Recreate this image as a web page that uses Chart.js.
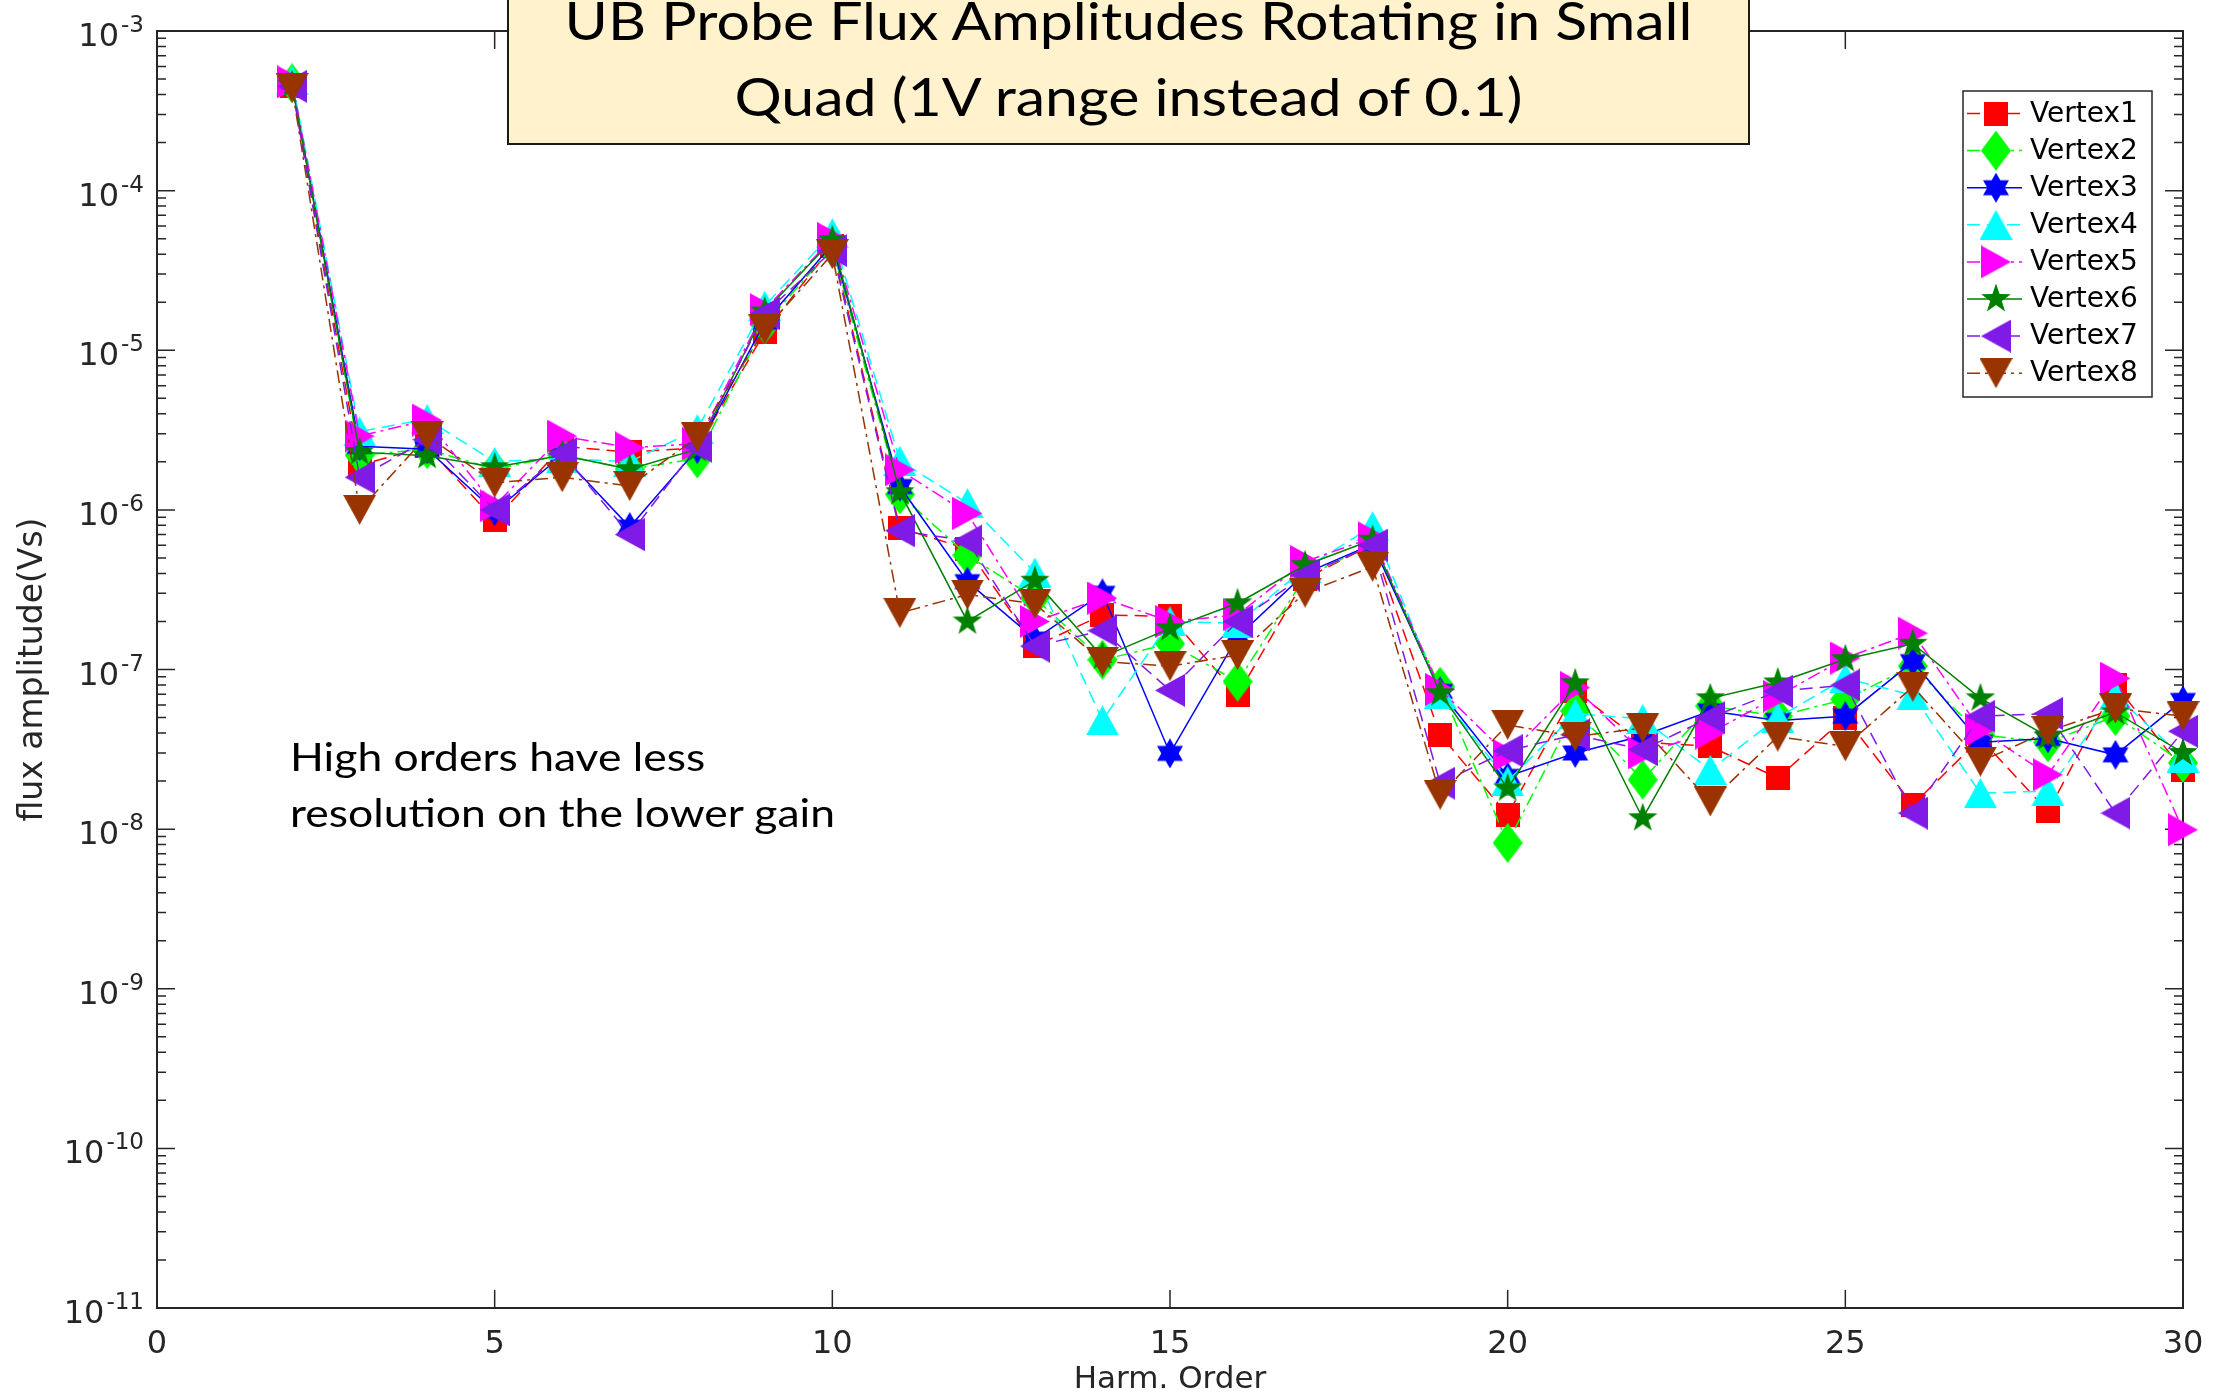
<!DOCTYPE html>
<html>
<head>
<meta charset="utf-8">
<title>UB Probe Flux Amplitudes</title>
<script src="https://cdn.jsdelivr.net/npm/chart.js@4.4.1/dist/chart.umd.min.js"></script>
<style>
	html, body { margin: 0; padding: 0; background: #fff; overflow: hidden; }
	#wrap { position: relative; width: 2234px; height: 1399px; }
	#titleBox {
		position: absolute; left: 507px; top: -29px; width: 1243px; height: 174px;
		box-sizing: border-box; border: 2px solid #1a1a1a; background: #FFF2CC;
		display: flex; flex-direction: column; justify-content: center;
		font-family: Lato, sans-serif; font-size: 52px; line-height: 76px;
		text-align: center; color: #000;
	}
	#titleBox div { transform: scaleX(1.135); }
	#note {
		position: absolute; left: 290px; top: 728px;
		font-family: Lato, sans-serif; font-size: 38px; line-height: 56px; color: #000;
		transform: scaleX(1.17); transform-origin: left top; white-space: nowrap;
	}
</style>
</head>
<body>
<div id="wrap">
	<canvas id="fluxChart" width="2234" height="1399"></canvas>
	<div id="titleBox"><div>UB Probe Flux Amplitudes Rotating in Small</div><div>Quad (1V range instead of 0.1)</div></div>
	<div id="note">High orders have less<br>resolution on the lower gain</div>
</div>
<script>
const harmonicOrder = [2, 3, 4, 5, 6, 7, 8, 9, 10, 11, 12, 13, 14, 15, 16, 17, 18, 19, 20, 21, 22, 23, 24, 25, 26, 27, 28, 29, 30];

const vertex1 = [4.5e-4, 1.9e-6, 2.5e-6, 8.6e-7, 2.5e-6, 2.3e-6, 2.45e-6, 1.3e-5, 4.5e-5, 7.7e-7, 5.7e-7, 1.4e-7, 2.2e-7, 2.15e-7, 6.9e-8, 3.7e-7, 6.1e-7, 3.9e-8, 1.23e-8, 7.3e-8, 3.5e-8, 3.3e-8, 2.09e-8, 5.0e-8, 1.42e-8, 3.7e-8, 1.29e-8, 8.0e-8, 2.35e-8];
const vertex2 = [4.7e-4, 2.2e-6, 2.4e-6, 1.8e-6, 2.2e-6, 1.8e-6, 2.1e-6, 1.45e-5, 4.4e-5, 1.25e-6, 5.2e-7, 2.8e-7, 1.15e-7, 1.45e-7, 8.4e-8, 3.8e-7, 6.1e-7, 7.8e-8, 8.2e-9, 5.5e-8, 2.04e-8, 5.9e-8, 5.1e-8, 6.5e-8, 1.05e-7, 3.9e-8, 3.5e-8, 5.1e-8, 2.6e-8];
const vertex3 = [4.6e-4, 2.5e-6, 2.4e-6, 9.8e-7, 2.2e-6, 7.8e-7, 2.4e-6, 1.5e-5, 4.6e-5, 1.4e-6, 3.55e-7, 1.55e-7, 3.0e-7, 2.98e-8, 1.6e-7, 4.0e-7, 6.1e-7, 7.3e-8, 2.14e-8, 3.0e-8, 3.85e-8, 5.5e-8, 4.8e-8, 5.1e-8, 1.12e-7, 3.5e-8, 3.7e-8, 2.92e-8, 6.4e-8];
const vertex4 = [4.9e-4, 3.1e-6, 3.7e-6, 2.0e-6, 2.1e-6, 2.0e-6, 3.2e-6, 1.9e-5, 5.4e-5, 2.03e-6, 1.1e-6, 4.05e-7, 4.8e-8, 2.0e-7, 1.95e-7, 4.3e-7, 7.9e-7, 7.0e-8, 2.0e-8, 5.3e-8, 4.9e-8, 2.35e-8, 5.0e-8, 8.8e-8, 6.9e-8, 1.68e-8, 1.73e-8, 6.9e-8, 2.8e-8];
const vertex5 = [4.8e-4, 2.9e-6, 3.65e-6, 1.06e-6, 2.9e-6, 2.45e-6, 2.6e-6, 1.8e-5, 5.0e-5, 1.78e-6, 9.5e-7, 2.0e-7, 2.8e-7, 2.0e-7, 2.2e-7, 4.75e-7, 6.7e-7, 7.5e-8, 2.9e-8, 7.7e-8, 3.0e-8, 4.0e-8, 6.8e-8, 1.18e-7, 1.69e-7, 4.2e-8, 2.19e-8, 8.8e-8, 9.9e-9];
const vertex6 = [4.6e-4, 2.3e-6, 2.18e-6, 1.85e-6, 2.2e-6, 1.8e-6, 2.4e-6, 1.75e-5, 4.9e-5, 1.29e-6, 2.0e-7, 3.6e-7, 1.2e-7, 1.81e-7, 2.6e-7, 4.5e-7, 6.5e-7, 7.1e-8, 1.8e-8, 8.2e-8, 1.17e-8, 6.6e-8, 8.3e-8, 1.16e-7, 1.45e-7, 6.6e-8, 3.8e-8, 5.4e-8, 3.0e-8];
const vertex7 = [4.5e-4, 1.6e-6, 2.75e-6, 1.0e-6, 2.25e-6, 7.0e-7, 2.5e-6, 1.7e-5, 4.2e-5, 7.4e-7, 6.4e-7, 1.4e-7, 1.75e-7, 7.4e-8, 2.0e-7, 3.9e-7, 6.0e-7, 1.94e-8, 3.1e-8, 3.9e-8, 3.15e-8, 5.0e-8, 7.3e-8, 8.0e-8, 1.26e-8, 5.1e-8, 5.3e-8, 1.26e-8, 4.1e-8];
const vertex8 = [4.4e-4, 1.0e-6, 2.9e-6, 1.48e-6, 1.6e-6, 1.41e-6, 2.85e-6, 1.35e-5, 4.0e-5, 2.26e-7, 2.95e-7, 2.58e-7, 1.12e-7, 1.05e-7, 1.23e-7, 3.03e-7, 4.4e-7, 1.64e-8, 4.5e-8, 3.8e-8, 4.3e-8, 1.49e-8, 3.8e-8, 3.3e-8, 7.8e-8, 2.65e-8, 4.1e-8, 5.7e-8, 5.1e-8];

const seriesNames = ['Vertex1', 'Vertex2', 'Vertex3', 'Vertex4', 'Vertex5', 'Vertex6', 'Vertex7', 'Vertex8'];
const seriesValues = [vertex1, vertex2, vertex3, vertex4, vertex5, vertex6, vertex7, vertex8];

const xTickValues = [0, 5, 10, 15, 20, 25, 30];
const yTickValues = [1e-11, 1e-10, 1e-9, 1e-8, 1e-7, 1e-6, 1e-5, 1e-4, 1e-3];
const yTickExponents = ['-11', '-10', '-9', '-8', '-7', '-6', '-5', '-4', '-3'];

// estilo de cada serie (cor, marcador, tracejado)
const seriesColors = ['#FF0000', '#00FF00', '#0000FF', '#00FFFF', '#FF00FF', '#008000', '#801AE6', '#993300'];
const seriesMarkers = ['square', 'diamond', 'hexagram', 'triUp', 'triRight', 'pentagram', 'triLeft', 'triDown'];
const DASH = [13, 7];
const DASHDOT = [13, 5, 3, 5];
const seriesDash = [DASH, DASHDOT, [], DASH, DASHDOT, [], DASH, DASHDOT];

function makeMarker(shape, color) {
	const c = document.createElement('canvas');
	const g = c.getContext('2d');
	const poly = (pts) => {
		g.beginPath();
		pts.forEach((p, i) => (i ? g.lineTo(p[0], p[1]) : g.moveTo(p[0], p[1])));
		g.closePath();
		g.fill();
	};
	const star = (cx, cy, n, R, r, rot) => {
		const pts = [];
		for (let k = 0; k < n * 2; k++) {
			const rad = k % 2 ? r : R;
			const a = rot + (k * Math.PI) / n;
			pts.push([cx + rad * Math.cos(a), cy + rad * Math.sin(a)]);
		}
		poly(pts);
	};
	const sizes = {
		square: [24, 24], diamond: [30, 40], hexagram: [28, 30], triUp: [33, 30],
		triRight: [30, 33], pentagram: [30, 32], triLeft: [30, 33], triDown: [33, 30],
	};
	const [w, h] = sizes[shape];
	c.width = w;
	c.height = h;
	g.fillStyle = color;
	if (shape === 'square') g.fillRect(0, 0, w, h);
	if (shape === 'diamond') poly([[w / 2, 0], [w, h / 2], [w / 2, h], [0, h / 2]]);
	if (shape === 'hexagram') star(w / 2, h / 2, 6, 15, 8.7, -Math.PI / 2);
	if (shape === 'triUp') poly([[w / 2, 0], [w, h], [0, h]]);
	if (shape === 'triDown') poly([[0, 0], [w, 0], [w / 2, h]]);
	if (shape === 'triRight') poly([[0, 0], [w, h / 2], [0, h]]);
	if (shape === 'triLeft') poly([[w, 0], [0, h / 2], [w, h]]);
	if (shape === 'pentagram') star(w / 2, h / 2, 5, 15.5, 6.1, -Math.PI / 2);
	return c;
}

const markerImages = seriesMarkers.map((m, i) => makeMarker(m, seriesColors[i]));

// moldura, marcas de escala para dentro e rótulos 10^n, estilo MATLAB
const axesFrame = {
	id: 'axesFrame',
	beforeDatasetsDraw(chart) {
		const { ctx, chartArea: a, scales: { x, y } } = chart;
		ctx.save();
		ctx.strokeStyle = '#262626';
		ctx.lineWidth = 2;
		ctx.strokeRect(a.left, a.top, a.right - a.left, a.bottom - a.top);
		ctx.lineWidth = 1.5;
		ctx.beginPath();
		xTickValues.forEach((v) => {
			const px = x.getPixelForValue(v);
			ctx.moveTo(px, a.bottom); ctx.lineTo(px, a.bottom - 18);
			ctx.moveTo(px, a.top); ctx.lineTo(px, a.top + 18);
		});
		yTickValues.forEach((dec, i) => {
			const steps = i < yTickValues.length - 1 ? 9 : 1;
			for (let m = 1; m <= steps; m++) {
				const py = y.getPixelForValue(dec * m);
				const len = m === 1 ? 18 : 9;
				ctx.moveTo(a.left, py); ctx.lineTo(a.left + len, py);
				ctx.moveTo(a.right, py); ctx.lineTo(a.right - len, py);
			}
		});
		ctx.stroke();

		ctx.fillStyle = '#262626';
		ctx.textBaseline = 'alphabetic';
		ctx.textAlign = 'left';
		yTickValues.forEach((v, i) => {
			const py = y.getPixelForValue(v);
			ctx.font = '32px "DejaVu Sans"';
			const wBase = ctx.measureText('10').width;
			ctx.font = '23px "DejaVu Sans"';
			const wExp = ctx.measureText(yTickExponents[i]).width;
			const x0 = a.left - 13 - wExp - 2 - wBase;
			ctx.font = '32px "DejaVu Sans"';
			ctx.fillText('10', x0, py + 15);
			ctx.font = '23px "DejaVu Sans"';
			ctx.fillText(yTickExponents[i], x0 + wBase + 2, py + 1);
		});
		ctx.restore();
	},
};

// legenda dentro do gráfico
const boxLegend = {
	id: 'boxLegend',
	afterDraw(chart) {
		const { ctx, chartArea: a } = chart;
		const bx = a.right - 220, by = a.top + 60, bw = 189, bh = 306;
		ctx.save();
		ctx.fillStyle = '#fff';
		ctx.fillRect(bx, by, bw, bh);
		ctx.strokeStyle = '#262626';
		ctx.lineWidth = 1.5;
		ctx.strokeRect(bx, by, bw, bh);
		ctx.font = '28px "DejaVu Sans"';
		ctx.textBaseline = 'middle';
		seriesNames.forEach((name, i) => {
			const cy = by + 22.5 + i * 37.1;
			ctx.strokeStyle = seriesColors[i];
			ctx.lineWidth = 1.5;
			ctx.setLineDash(seriesDash[i]);
			ctx.beginPath();
			ctx.moveTo(bx + 4, cy);
			ctx.lineTo(bx + 59, cy);
			ctx.stroke();
			ctx.setLineDash([]);
			const img = markerImages[i];
			ctx.drawImage(img, bx + 33 - img.width / 2, cy - img.height / 2);
			ctx.fillStyle = '#000';
			ctx.fillText(name, bx + 67, cy + 1);
		});
		ctx.restore();
	},
};

document.addEventListener('DOMContentLoaded', () => {
	const datasets = seriesNames.map((name, i) => ({
		label: name,
		data: harmonicOrder.map((h, k) => ({ x: h, y: seriesValues[i][k] })),
		borderColor: seriesColors[i],
		backgroundColor: seriesColors[i],
		borderWidth: 1.5,
		borderDash: seriesDash[i],
		pointStyle: markerImages[i],
		pointRadius: 15,
		tension: 0,
		clip: false,
		order: seriesNames.length - i,
	}));

	new Chart(document.getElementById('fluxChart'), {
		type: 'line',
		data: { datasets },
		options: {
			responsive: false,
			animation: false,
			layout: { padding: { left: 0, right: 51, top: 31, bottom: 0 } },
			plugins: {
				legend: { display: false },
				tooltip: { enabled: false },
			},
			scales: {
				x: {
					type: 'linear',
					min: 0,
					max: 30,
					afterBuildTicks: (s) => { s.ticks = xTickValues.map((v) => ({ value: v })); },
					afterFit: (s) => { s.height = 91; },
					ticks: {
						autoSkip: false,
						maxRotation: 0,
						padding: 17,
						color: '#262626',
						font: { family: 'DejaVu Sans', size: 32 },
					},
					grid: { display: false, drawTicks: false },
					border: { display: false },
					title: {
						display: true,
						text: 'Harm. Order',
						color: '#262626',
						font: { family: 'DejaVu Sans', size: 31 },
						padding: { top: 0, bottom: 0 },
					},
				},
				y: {
					type: 'logarithmic',
					min: 1e-11,
					max: 1e-3,
					afterBuildTicks: (s) => { s.ticks = yTickValues.map((v) => ({ value: v })); },
					afterFit: (s) => { s.width = 157; },
					ticks: { display: false },
					grid: { display: false, drawTicks: false },
					border: { display: false },
					title: {
						display: true,
						text: 'flux amplitude(Vs)',
						color: '#262626',
						font: { family: 'DejaVu Sans', size: 33 },
						padding: { top: 14, bottom: 0 },
					},
				},
			},
		},
		plugins: [axesFrame, boxLegend],
	});
});
</script>
</body>
</html>
